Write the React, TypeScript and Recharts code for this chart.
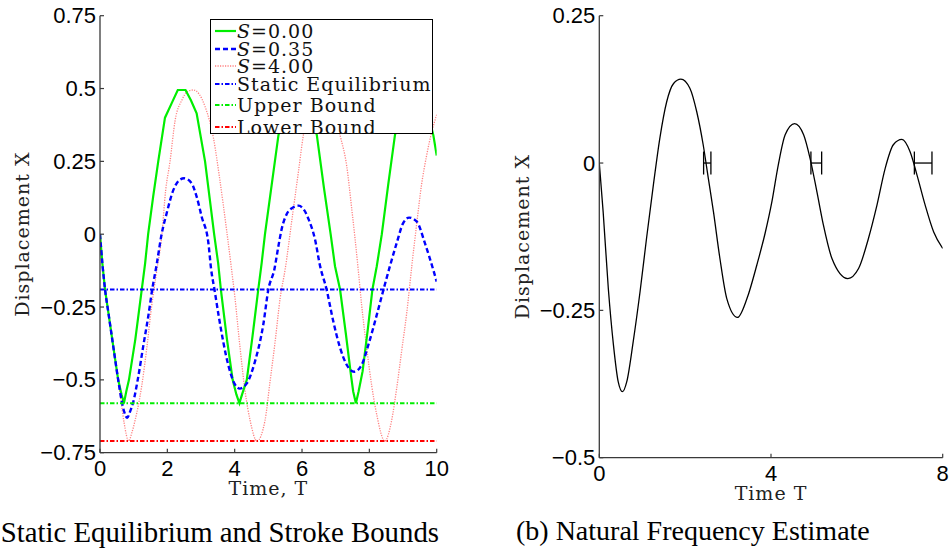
import { ComposedChart, Line, XAxis, YAxis, Legend, Scatter, ErrorBar } from "recharts";

// ---- panel (a): stroke bounds ----
const timeS0 = [0, 0.07, 0.15, 0.25, 0.4, 0.54, 0.64, 0.71, 0.78, 0.86, 1.05, 1.24, 1.34, 1.43, 1.58, 1.73, 1.93, 2.13, 2.31, 2.54, 2.7, 2.87, 3.12, 3.39, 3.51, 3.59, 3.77, 3.94, 4.05, 4.14, 4.22, 4.36, 4.53, 4.7, 4.8, 4.9, 5.1, 5.3, 5.5, 5.72, 5.98, 6.15, 6.3, 6.44, 6.65, 6.85, 6.98, 7.13, 7.3, 7.45, 7.52, 7.6, 7.68, 7.8, 7.95, 8.09, 8.22, 8.37, 8.56, 8.76, 8.95, 9.15, 9.42, 9.6, 9.75, 9.9, 10];
const dispS0 = [0, -0.1, -0.19, -0.27, -0.39, -0.5, -0.55, -0.58, -0.54, -0.5, -0.36, -0.19, -0.1, 0, 0.13, 0.25, 0.4, 0.45, 0.495, 0.495, 0.46, 0.415, 0.25, 0, -0.1, -0.19, -0.36, -0.5, -0.55, -0.58, -0.55, -0.5, -0.35, -0.19, -0.1, 0, 0.17, 0.34, 0.43, 0.49, 0.49, 0.46, 0.41, 0.34, 0.16, 0, -0.11, -0.19, -0.34, -0.48, -0.54, -0.58, -0.54, -0.47, -0.33, -0.19, -0.11, 0, 0.17, 0.34, 0.43, 0.49, 0.49, 0.46, 0.41, 0.34, 0.27];

const timeS035 = [0, 0.07, 0.15, 0.25, 0.4, 0.54, 0.64, 0.72, 0.81, 0.89, 0.99, 1.12, 1.29, 1.44, 1.55, 1.68, 1.83, 1.98, 2.18, 2.35, 2.5, 2.72, 2.87, 3.02, 3.22, 3.3, 3.4, 3.52, 3.81, 3.99, 4.15, 4.36, 4.6, 4.85, 5.0, 5.18, 5.3, 5.4, 5.55, 5.75, 5.9, 6.05, 6.2, 6.39, 6.53, 6.73, 6.93, 7.13, 7.33, 7.55, 7.77, 7.97, 8.22, 8.42, 8.61, 8.81, 9.0, 9.18, 9.41, 9.65, 9.9, 10];
const dispS035 = [0, -0.1, -0.19, -0.27, -0.39, -0.5, -0.57, -0.61, -0.63, -0.61, -0.575, -0.5, -0.38, -0.277, -0.19, -0.106, 0, 0.072, 0.152, 0.185, 0.192, 0.175, 0.129, 0.06, -0.031, -0.12, -0.19, -0.277, -0.449, -0.512, -0.53, -0.512, -0.438, -0.31, -0.19, -0.12, -0.04, 0.02, 0.07, 0.093, 0.098, 0.085, 0.05, -0.02, -0.106, -0.19, -0.3, -0.39, -0.449, -0.472, -0.449, -0.38, -0.277, -0.19, -0.11, -0.031, 0.037, 0.057, 0.043, -0.031, -0.123, -0.163];

const timeS4 = [0, 0.07, 0.15, 0.25, 0.4, 0.54, 0.62, 0.72, 0.85, 0.95, 1.04, 1.24, 1.39, 1.53, 1.68, 1.83, 1.95, 2.08, 2.23, 2.43, 2.6, 2.77, 2.95, 3.12, 3.37, 3.56, 3.76, 3.91, 4.01, 4.16, 4.31, 4.46, 4.66, 4.9, 5.05, 5.2, 5.35, 5.5, 5.7, 5.9, 6.04, 6.25, 6.58, 6.9, 7.13, 7.33, 7.47, 7.57, 7.67, 7.77, 7.92, 8.07, 8.22, 8.46, 8.66, 8.81, 8.96, 9.11, 9.26, 9.41, 9.55, 9.7, 9.85, 10];
const dispS4 = [0, -0.1, -0.19, -0.27, -0.39, -0.5, -0.57, -0.65, -0.71, -0.68, -0.64, -0.52, -0.39, -0.25, -0.13, -0.01, 0.15, 0.25, 0.39, 0.46, 0.49, 0.495, 0.48, 0.438, 0.33, 0.186, 0.014, -0.123, -0.22, -0.39, -0.54, -0.64, -0.71, -0.64, -0.506, -0.37, -0.22, -0.12, 0.05, 0.22, 0.34, 0.45, 0.495, 0.45, 0.34, 0.232, 0.094, -0.01, -0.123, -0.243, -0.39, -0.52, -0.62, -0.71, -0.64, -0.53, -0.4, -0.27, -0.11, 0.04, 0.17, 0.27, 0.35, 0.41];

const staticEquilibrium = -0.19;
const upperBound = -0.58;
const lowerBound = -0.71;
const spanA = [0, 10];

const seriesNamesA = ["S=0.00", "S=0.35", "S=4.00", "Static Equilibrium", "Upper Bound", "Lower Bound"];
const ticksAX = [0, 2, 4, 6, 8, 10];
const ticksAY = [-0.75, -0.5, -0.25, 0, 0.25, 0.5, 0.75];

// ---- panel (b): natural frequency ----
const timeB = [0, 0.09, 0.21, 0.33, 0.44, 0.54, 0.64, 0.79, 0.95, 1.1, 1.26, 1.41, 1.57, 1.73, 1.9, 2.11, 2.27, 2.42, 2.54, 2.66, 2.81, 2.97, 3.22, 3.44, 3.67, 3.86, 4.02, 4.17, 4.33, 4.55, 4.76, 4.91, 5.07, 5.22, 5.42, 5.79, 6.04, 6.27, 6.47, 6.66, 6.85, 7.05, 7.24, 7.4, 7.59, 7.79, 8];
const dispB = [0, -0.083, -0.213, -0.309, -0.371, -0.388, -0.371, -0.303, -0.218, -0.128, -0.037, 0.042, 0.104, 0.135, 0.1425, 0.127, 0.087, 0.031, -0.026, -0.083, -0.162, -0.23, -0.262, -0.23, -0.173, -0.12, -0.066, -0.003, 0.048, 0.067, 0.048, 0.008, -0.049, -0.105, -0.162, -0.196, -0.179, -0.128, -0.071, -0.009, 0.031, 0.04, 0.019, -0.02, -0.071, -0.117, -0.145];

const periodStart = [2.43, 4.93, 7.34];
const periodEnd = [2.6, 5.18, 7.75];

const ticksBX = [0, 4, 8];
const ticksBY = [-0.5, -0.25, 0, 0.25];

// ---- built tables ----
const zip = (t: number[], v: number[]) => t.map((x, i) => ({ t: x, v: v[i] }));
const flat = (v: number) => spanA.map((t) => ({ t, v }));
const curveB = zip(timeB, dispB);
const periodMarks = periodStart.map((s, i) => ({ t: s, v: 0, err: [0, periodEnd[i] - s] }));

const AXIS = "#3a3a3a";
const SANS = "'Liberation Sans', Arial, sans-serif";
const SERIF = "'DejaVu Serif', serif";

const styleA: Record<string, { stroke: string; width: number; dash?: string }> = {
  "S=0.00": { stroke: "#00ee00", width: 2.2 },
  "S=0.35": { stroke: "#0000ff", width: 2.4, dash: "5 3" },
  "S=4.00": { stroke: "#ff8080", width: 1.3, dash: "1.2 1.3" },
  "Static Equilibrium": { stroke: "#0000ff", width: 2, dash: "4.5 2 1.5 2" },
  "Upper Bound": { stroke: "#00ee00", width: 2, dash: "4.5 2 1.5 2" },
  "Lower Bound": { stroke: "#ff0000", width: 2, dash: "4.5 2 1.5 2" },
};

const fmt = (v: number) => (v < 0 ? "\u2212" + String(-v) : String(v));

const YTick = ({ x, y, payload }: any) => (
  <g>
    <line x1={x + 4} y1={y} x2={x + 8} y2={y} stroke={AXIS} strokeWidth={1.2} />
    <text x={x} y={y} textAnchor="end" dominantBaseline="central" fontFamily={SANS} fontSize={22} fill="#000">
      {fmt(payload.value)}
    </text>
  </g>
);

const XTick = ({ x, y, payload }: any) => (
  <g>
    <line x1={x} y1={y} x2={x} y2={y - 4} stroke={AXIS} strokeWidth={1.2} />
    <text x={x} y={y + 16} textAnchor="middle" dominantBaseline="central" fontFamily={SANS} fontSize={22} fill="#000">
      {fmt(payload.value)}
    </text>
  </g>
);

const yTitle = (props: any) => {
  const vb = props.viewBox;
  const cx = vb.x + 22;
  const cy = vb.y + vb.height / 2;
  return (
    <text x={cx} y={cy} transform={`rotate(-90 ${cx} ${cy})`} textAnchor="middle" dominantBaseline="central" fontFamily={SERIF} fontSize={19} letterSpacing={1} fill="#222">
      Displacement X
    </text>
  );
};

const xTitle = (text: string, dy: number) => (props: any) => {
  const vb = props.viewBox;
  return (
    <text x={vb.x + vb.width / 2} y={vb.y + dy} textAnchor="middle" fontFamily={SERIF} fontSize={19} letterSpacing={1} fill="#222">
      {text}
    </text>
  );
};

const legendRows = [10.5, 29.3, 46, 63.5, 85, 106.5];

const LegendBox = ({ payload }: any) => {
  const items = [...(payload || [])].sort(
    (a: any, b: any) => seriesNamesA.indexOf(a.value) - seriesNamesA.indexOf(b.value)
  );
  return (
    <div style={{ position: "relative", width: 223, height: 115, background: "#fff", border: "1.5px solid #000", boxSizing: "border-box" }}>
      {items.map((e: any, i: number) => {
        const st = styleA[e.value];
        const name: string = e.value;
        return (
          <div key={name} style={{ position: "absolute", left: 0, top: legendRows[i] - 8, height: 16, display: "flex", alignItems: "center", whiteSpace: "nowrap" }}>
            <svg width={26} height={16} style={{ display: "block" }}>
              <line x1={4} x2={25} y1={8} y2={8} stroke={st.stroke} strokeWidth={st.width} strokeDasharray={st.dash} />
            </svg>
            <span style={{ fontFamily: SERIF, fontSize: 19, letterSpacing: 1, color: "#111", lineHeight: "16px" }}>
              {name.startsWith("S=") ? (
                <>
                  <i>S</i>
                  {name.slice(1)}
                </>
              ) : (
                name
              )}
            </span>
          </div>
        );
      })}
    </div>
  );
};

const seriesA = [
  { name: "S=4.00", data: zip(timeS4, dispS4), type: "monotone" },
  { name: "S=0.00", data: zip(timeS0, dispS0), type: "linear" },
  { name: "S=0.35", data: zip(timeS035, dispS035), type: "monotone" },
  { name: "Static Equilibrium", data: flat(staticEquilibrium), type: "linear" },
  { name: "Upper Bound", data: flat(upperBound), type: "linear" },
  { name: "Lower Bound", data: flat(lowerBound), type: "linear" },
];

export default function App() {
  return (
    <div style={{ position: "absolute", left: 0, top: 0, width: 951, height: 552, background: "#fff", overflow: "hidden" }}>
      <svg width={951} height={552} style={{ position: "absolute", left: 0, top: 0 }}>
        <text x={439} y={541.5} textAnchor="end" fontFamily="'Liberation Serif', serif" fontSize={28.8} fill="#000">
          Static Equilibrium and Stroke Bounds
        </text>
        <text x={516} y={540} fontFamily="'Liberation Serif', serif" fontSize={28} fill="#000">
          (b) Natural Frequency Estimate
        </text>
      </svg>

      <div style={{ position: "absolute", left: 0, top: 0 }}>
        <ComposedChart width={460} height={552} margin={{ top: 15.7, right: 23.3, bottom: 0, left: 0 }}>
          <XAxis
            type="number"
            dataKey="t"
            domain={[0, 10]}
            ticks={ticksAX}
            allowDataOverflow
            height={99.3}
            stroke={AXIS}
            strokeWidth={1.3}
            tickLine={false}
            tickSize={0}
            tickMargin={0}
            tick={<XTick />}
            label={xTitle("Time, T", 42.5)}
          />
          <YAxis
            type="number"
            dataKey="v"
            domain={[-0.75, 0.75]}
            ticks={ticksAY}
            allowDataOverflow
            width={100}
            stroke={AXIS}
            strokeWidth={1.3}
            tickLine={false}
            tickSize={0}
            tickMargin={4}
            tick={<YTick />}
            label={yTitle}
          />
          {seriesA.map((s) => {
            const st = styleA[s.name];
            return (
              <Line
                key={s.name}
                name={s.name}
                data={s.data}
                dataKey="v"
                type={s.type as any}
                stroke={st.stroke}
                strokeWidth={st.width}
                strokeDasharray={st.dash}
                dot={false}
                activeDot={false}
                isAnimationActive={false}
              />
            );
          })}
          <Legend
            layout="vertical"
            align="center"
            verticalAlign="middle"
            content={<LegendBox />}
            wrapperStyle={{ left: 210, top: 19, width: 223, height: 115, margin: 0 }}
          />
        </ComposedChart>
      </div>

      <div style={{ position: "absolute", left: 500, top: 0 }}>
        <ComposedChart width={451} height={552} margin={{ top: 15.7, right: 8.3, bottom: 0, left: 0 }}>
          <XAxis
            type="number"
            dataKey="t"
            domain={[0, 8]}
            ticks={ticksBX}
            allowDataOverflow
            height={94.3}
            stroke={AXIS}
            strokeWidth={1.3}
            tickLine={false}
            tickSize={0}
            tickMargin={0}
            tick={<XTick />}
            label={xTitle("Time T", 42.5)}
          />
          <YAxis
            type="number"
            dataKey="v"
            domain={[-0.5, 0.25]}
            ticks={ticksBY}
            allowDataOverflow
            width={99.3}
            stroke={AXIS}
            strokeWidth={1.3}
            tickLine={false}
            tickSize={0}
            tickMargin={4}
            tick={<YTick />}
            label={yTitle}
          />
          <Line
            name="Displacement"
            data={curveB}
            dataKey="v"
            type="monotone"
            stroke="#000"
            strokeWidth={1.3}
            dot={false}
            activeDot={false}
            isAnimationActive={false}
          />
          <Scatter data={periodMarks} dataKey="v" shape={() => <g />} isAnimationActive={false}>
            <ErrorBar dataKey="err" direction="x" width={11.5} stroke="#000" strokeWidth={1.3} />
          </Scatter>
        </ComposedChart>
      </div>
    </div>
  );
}
